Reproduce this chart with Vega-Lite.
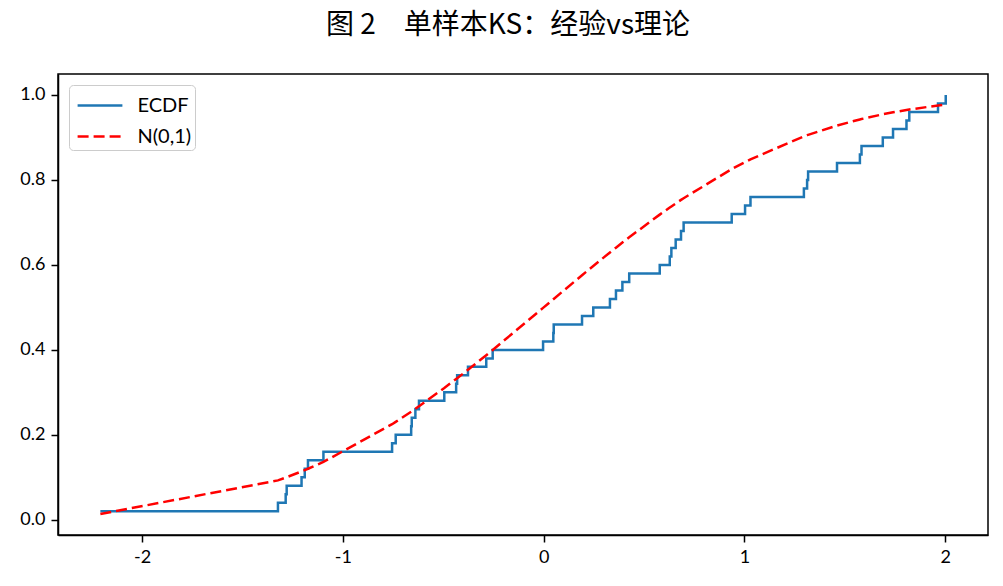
{
  "$schema": "https://vega.github.io/schema/vega-lite/v6.json",
  "width": 930,
  "height": 461,
  "autosize": {"type": "none"},
  "padding": {"left": 58, "top": 74, "right": 15, "bottom": 51},
  "background": "white",
  "title": {
    "text": "图 2　单样本KS：经验vs理论",
    "font": "Noto Sans CJK SC",
    "fontSize": 28,
    "fontWeight": "normal",
    "color": "#000000",
    "anchor": "middle",
    "dx": -15,
    "offset": 34
  },
  "datasets": {
    "ecdf": [
      {"series": "ECDF", "x": -2.208, "y": 0.02},
      {"series": "ECDF", "x": -1.3235, "y": 0.04},
      {"series": "ECDF", "x": -1.285, "y": 0.06},
      {"series": "ECDF", "x": -1.28, "y": 0.08},
      {"series": "ECDF", "x": -1.206, "y": 0.10},
      {"series": "ECDF", "x": -1.19, "y": 0.12},
      {"series": "ECDF", "x": -1.174, "y": 0.14},
      {"series": "ECDF", "x": -1.097, "y": 0.16},
      {"series": "ECDF", "x": -0.755, "y": 0.18},
      {"series": "ECDF", "x": -0.737, "y": 0.20},
      {"series": "ECDF", "x": -0.66, "y": 0.22},
      {"series": "ECDF", "x": -0.657, "y": 0.24},
      {"series": "ECDF", "x": -0.639, "y": 0.26},
      {"series": "ECDF", "x": -0.621, "y": 0.28},
      {"series": "ECDF", "x": -0.495, "y": 0.30},
      {"series": "ECDF", "x": -0.436, "y": 0.32},
      {"series": "ECDF", "x": -0.431, "y": 0.34},
      {"series": "ECDF", "x": -0.377, "y": 0.36},
      {"series": "ECDF", "x": -0.286, "y": 0.38},
      {"series": "ECDF", "x": -0.254, "y": 0.40},
      {"series": "ECDF", "x": -0.003, "y": 0.42},
      {"series": "ECDF", "x": 0.048, "y": 0.44},
      {"series": "ECDF", "x": 0.05, "y": 0.46},
      {"series": "ECDF", "x": 0.191, "y": 0.48},
      {"series": "ECDF", "x": 0.247, "y": 0.50},
      {"series": "ECDF", "x": 0.33, "y": 0.52},
      {"series": "ECDF", "x": 0.36, "y": 0.54},
      {"series": "ECDF", "x": 0.392, "y": 0.56},
      {"series": "ECDF", "x": 0.426, "y": 0.58},
      {"series": "ECDF", "x": 0.578, "y": 0.60},
      {"series": "ECDF", "x": 0.628, "y": 0.62},
      {"series": "ECDF", "x": 0.636, "y": 0.64},
      {"series": "ECDF", "x": 0.6575, "y": 0.66},
      {"series": "ECDF", "x": 0.684, "y": 0.68},
      {"series": "ECDF", "x": 0.697, "y": 0.70},
      {"series": "ECDF", "x": 0.9365, "y": 0.72},
      {"series": "ECDF", "x": 1.003, "y": 0.74},
      {"series": "ECDF", "x": 1.03, "y": 0.76},
      {"series": "ECDF", "x": 1.296, "y": 0.78},
      {"series": "ECDF", "x": 1.312, "y": 0.80},
      {"series": "ECDF", "x": 1.317, "y": 0.82},
      {"series": "ECDF", "x": 1.461, "y": 0.84},
      {"series": "ECDF", "x": 1.575, "y": 0.86},
      {"series": "ECDF", "x": 1.583, "y": 0.88},
      {"series": "ECDF", "x": 1.689, "y": 0.90},
      {"series": "ECDF", "x": 1.74, "y": 0.92},
      {"series": "ECDF", "x": 1.807, "y": 0.94},
      {"series": "ECDF", "x": 1.821, "y": 0.96},
      {"series": "ECDF", "x": 1.964, "y": 0.98},
      {"series": "ECDF", "x": 2.0025, "y": 1.00}
    ],
    "norm": [
      {"series": "N(0,1)", "x": -2.208, "y": 0.0136},
      {"series": "N(0,1)", "x": -1.3235, "y": 0.0928},
      {"series": "N(0,1)", "x": -1.285, "y": 0.0994},
      {"series": "N(0,1)", "x": -1.28, "y": 0.1003},
      {"series": "N(0,1)", "x": -1.206, "y": 0.1139},
      {"series": "N(0,1)", "x": -1.19, "y": 0.1170},
      {"series": "N(0,1)", "x": -1.174, "y": 0.1202},
      {"series": "N(0,1)", "x": -1.097, "y": 0.1363},
      {"series": "N(0,1)", "x": -0.755, "y": 0.2251},
      {"series": "N(0,1)", "x": -0.737, "y": 0.2305},
      {"series": "N(0,1)", "x": -0.66, "y": 0.2546},
      {"series": "N(0,1)", "x": -0.657, "y": 0.2556},
      {"series": "N(0,1)", "x": -0.639, "y": 0.2614},
      {"series": "N(0,1)", "x": -0.621, "y": 0.2673},
      {"series": "N(0,1)", "x": -0.495, "y": 0.3103},
      {"series": "N(0,1)", "x": -0.436, "y": 0.3314},
      {"series": "N(0,1)", "x": -0.431, "y": 0.3332},
      {"series": "N(0,1)", "x": -0.377, "y": 0.3531},
      {"series": "N(0,1)", "x": -0.286, "y": 0.3874},
      {"series": "N(0,1)", "x": -0.254, "y": 0.3997},
      {"series": "N(0,1)", "x": -0.003, "y": 0.4988},
      {"series": "N(0,1)", "x": 0.048, "y": 0.5191},
      {"series": "N(0,1)", "x": 0.05, "y": 0.5199},
      {"series": "N(0,1)", "x": 0.191, "y": 0.5757},
      {"series": "N(0,1)", "x": 0.247, "y": 0.5975},
      {"series": "N(0,1)", "x": 0.33, "y": 0.6293},
      {"series": "N(0,1)", "x": 0.36, "y": 0.6406},
      {"series": "N(0,1)", "x": 0.392, "y": 0.6525},
      {"series": "N(0,1)", "x": 0.426, "y": 0.6650},
      {"series": "N(0,1)", "x": 0.578, "y": 0.7183},
      {"series": "N(0,1)", "x": 0.628, "y": 0.7350},
      {"series": "N(0,1)", "x": 0.636, "y": 0.7376},
      {"series": "N(0,1)", "x": 0.6575, "y": 0.7446},
      {"series": "N(0,1)", "x": 0.684, "y": 0.7530},
      {"series": "N(0,1)", "x": 0.697, "y": 0.7570},
      {"series": "N(0,1)", "x": 0.9365, "y": 0.8255},
      {"series": "N(0,1)", "x": 1.003, "y": 0.8421},
      {"series": "N(0,1)", "x": 1.03, "y": 0.8485},
      {"series": "N(0,1)", "x": 1.296, "y": 0.9025},
      {"series": "N(0,1)", "x": 1.312, "y": 0.9053},
      {"series": "N(0,1)", "x": 1.317, "y": 0.9061},
      {"series": "N(0,1)", "x": 1.461, "y": 0.9280},
      {"series": "N(0,1)", "x": 1.575, "y": 0.9424},
      {"series": "N(0,1)", "x": 1.583, "y": 0.9433},
      {"series": "N(0,1)", "x": 1.689, "y": 0.9544},
      {"series": "N(0,1)", "x": 1.74, "y": 0.9591},
      {"series": "N(0,1)", "x": 1.807, "y": 0.9646},
      {"series": "N(0,1)", "x": 1.821, "y": 0.9657},
      {"series": "N(0,1)", "x": 1.964, "y": 0.9752},
      {"series": "N(0,1)", "x": 2.0025, "y": 0.9774}
    ]
  },
  "encoding": {
    "x": {
      "field": "x", "type": "quantitative",
      "scale": {"domain": [-2.419, 2.213], "nice": false, "zero": false},
      "axis": {"values": [-2, -1, 0, 1, 2], "title": null, "format": "d", "labelExpr": "replace(datum.label, '−', '-')"}
    },
    "y": {
      "field": "y", "type": "quantitative",
      "scale": {"domain": [-0.0357, 1.0493], "nice": false, "zero": false},
      "axis": {"values": [0, 0.2, 0.4, 0.6, 0.8, 1.0], "title": null, "format": ".1f"}
    },
    "color": {
      "field": "series", "type": "nominal",
      "scale": {"domain": ["ECDF", "N(0,1)"], "range": ["#1f77b4", "#ff0000"]},
      "legend": {"title": null}
    },
    "strokeDash": {
      "field": "series", "type": "nominal",
      "scale": {"domain": ["ECDF", "N(0,1)"], "range": [[1, 0], [11, 5]]},
      "legend": {"title": null}
    }
  },
  "layer": [
    {
      "data": {"name": "ecdf"},
      "mark": {"type": "line", "interpolate": "step-after", "strokeWidth": 2.5, "clip": true}
    },
    {
      "data": {"name": "norm"},
      "mark": {"type": "line", "strokeWidth": 2.5, "clip": true}
    }
  ],
  "config": {
    "view": {"stroke": "#000000", "strokeWidth": 1.5},
    "axis": {
      "grid": false,
      "domainColor": "#000000",
      "domainWidth": 1.5,
      "tickColor": "#000000",
      "tickWidth": 1.5,
      "tickSize": 7,
      "labelFont": "Lato",
      "labelFontSize": 18,
      "labelColor": "#000000",
      "labelPadding": 6
    },
    "legend": {
      "orient": "top-left",
      "offset": 11,
      "padding": 3,
      "strokeColor": "#cccccc",
      "fillColor": "#ffffff",
      "cornerRadius": 4,
      "symbolType": "M-1.4,0H1.4",
      "symbolSize": 1024,
      "symbolOffset": 10.5,
      "symbolStrokeWidth": 2.5,
      "symbolFillColor": "transparent",
      "labelFont": "Lato",
      "labelFontSize": 20,
      "labelColor": "#000000",
      "labelOffset": 20,
      "rowPadding": 3
    }
  }
}
